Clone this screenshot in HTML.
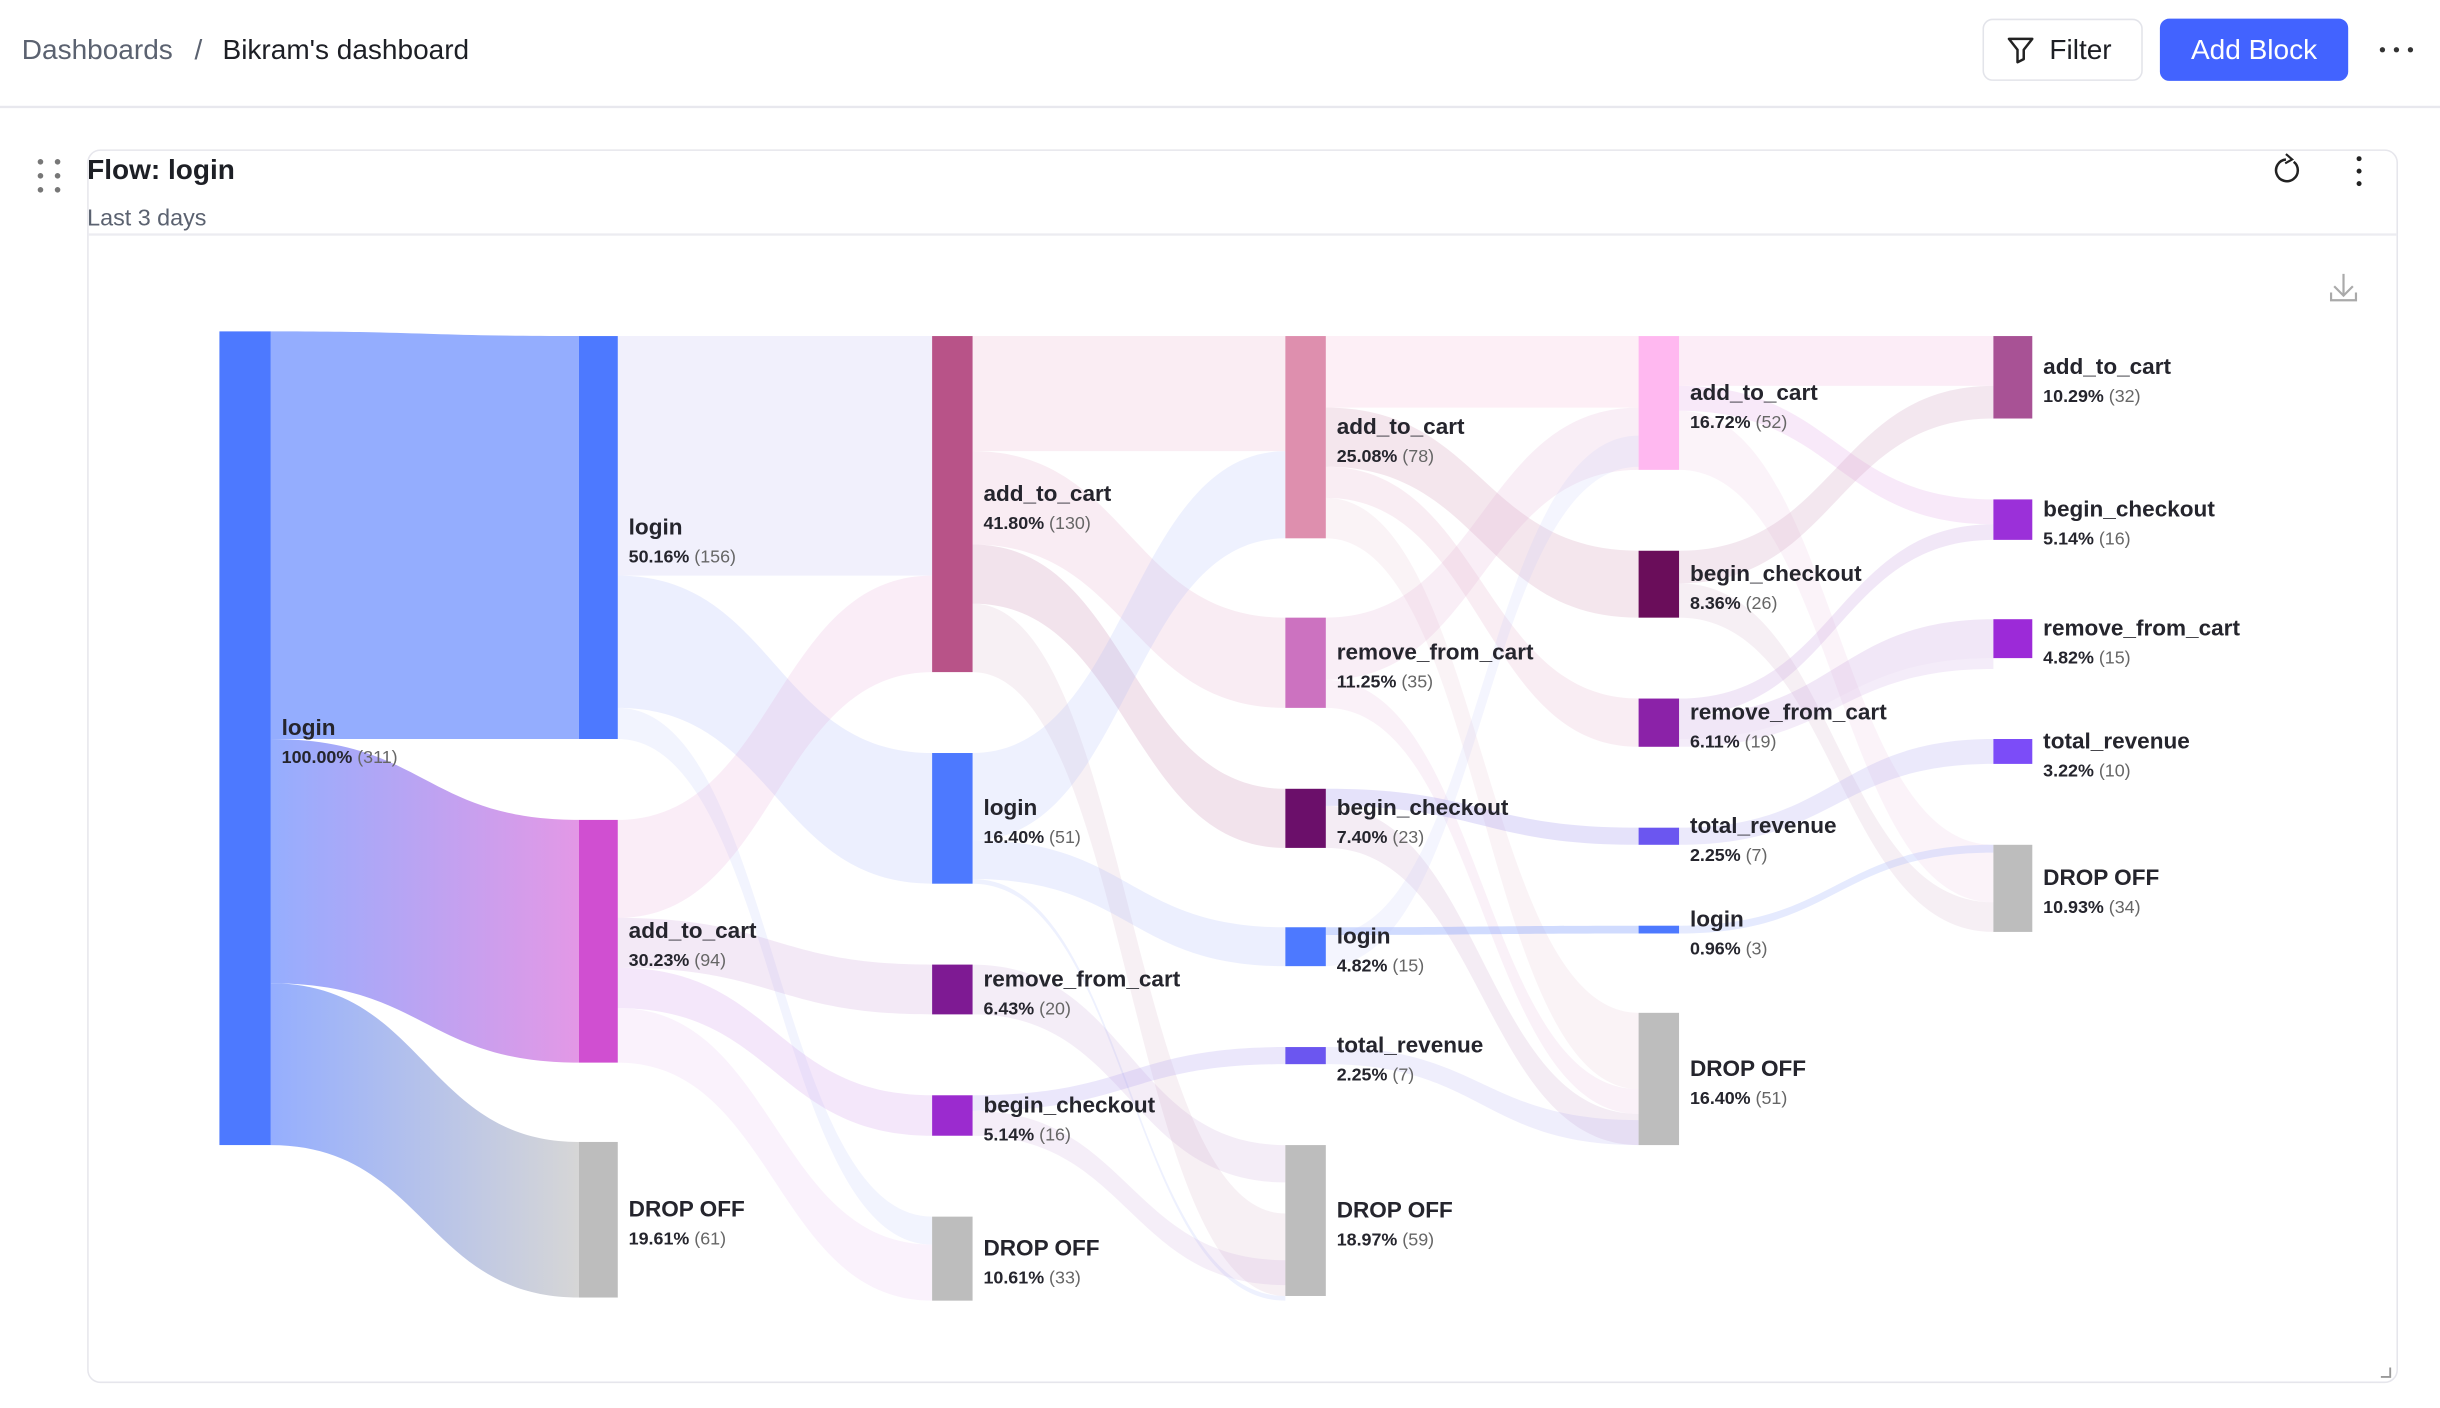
<!DOCTYPE html>
<html><head><meta charset="utf-8">
<style>
html,body{margin:0;padding:0;background:#fff;}
svg{display:block;font-family:"Liberation Sans",sans-serif;}
.nm{font-size:14.5px;font-weight:bold;fill:#25252d;}
.pc{font-size:11.5px;font-weight:bold;fill:#25252d;}
.pc tspan{font-weight:normal;fill:#666;}
</style></head><body>
<svg id="s" width="2440" height="1408" viewBox="0 0 1568 905" preserveAspectRatio="none" xmlns="http://www.w3.org/2000/svg">
<defs>
<linearGradient id="g1" x1="0" x2="1"><stop offset="0" stop-color="#95aefe"/><stop offset="1" stop-color="#e398e6"/></linearGradient>
<linearGradient id="g2" x1="0" x2="1"><stop offset="0" stop-color="#95aefe"/><stop offset="1" stop-color="#d6d6d6"/></linearGradient>
</defs>
<!-- header -->
<text x="14" y="38" font-size="18" fill="#5b6270">Dashboards</text>
<text x="125" y="38" font-size="18" fill="#5b6270">/</text>
<text x="143" y="38" font-size="18" fill="#1d1f25">Bikram's dashboard</text>
<rect x="1274.5" y="12.5" width="102" height="39" rx="6" fill="#fff" stroke="#e3e4ea"/>
<path d="M1291 25 h15 l-5.5 7 v6 l-4 2 v-8 z" fill="none" stroke="#222" stroke-width="1.6" stroke-linejoin="round"/>
<text x="1317" y="38" font-size="18" fill="#1d1f25">Filter</text>
<rect x="1388" y="12" width="121" height="40" rx="6" fill="#4263ff"/>
<text x="1448.5" y="38" font-size="18" fill="#fff" text-anchor="middle">Add Block</text>
<circle cx="1531" cy="32" r="1.7" fill="#333"/><circle cx="1540" cy="32" r="1.7" fill="#333"/><circle cx="1549" cy="32" r="1.7" fill="#333"/>
<rect x="0" y="68" width="1568" height="1.5" fill="#e8e8ee"/>
<!-- card -->
<rect x="56.5" y="96.5" width="1484" height="792" rx="8" fill="#fff" stroke="#e6e6ec"/>
<rect x="56.5" y="150" width="1484" height="1.5" fill="#ececf1"/>
<g fill="#777"><circle cx="26" cy="104" r="1.8"/><circle cx="37" cy="104" r="1.8"/><circle cx="26" cy="113" r="1.8"/><circle cx="37" cy="113" r="1.8"/><circle cx="26" cy="122" r="1.8"/><circle cx="37" cy="122" r="1.8"/></g>
<text x="56" y="115" font-size="18" font-weight="bold" fill="#1d1f25">Flow: login</text>
<text x="56" y="145" font-size="15" fill="#5b6270">Last 3 days</text>
<path d="M1474 104 A7 7 0 1 1 1469 102.5" fill="none" stroke="#222" stroke-width="1.6"/>
<path d="M1469 99 l4 3.5 l-4.5 2.5" fill="none" stroke="#222" stroke-width="1.4"/>
<circle cx="1516" cy="102" r="1.6" fill="#222"/><circle cx="1516" cy="110" r="1.6" fill="#222"/><circle cx="1516" cy="118" r="1.6" fill="#222"/>
<path d="M1506 176 v14 M1500 184 l6 6 l6 -6 M1498 188 v5 h16 v-5" fill="none" stroke="#aaa" stroke-width="1.4"/>
<path d="M1530 885 h6 v-6" fill="none" stroke="#999" stroke-width="1.2"/>
<g id="links"></g>
<g id="nodes"></g>
<g id="labels"></g>
</svg>
<script>
var NS="http://www.w3.org/2000/svg";
var L=document.getElementById('links'),N=document.getElementById('nodes'),T=document.getElementById('labels');
function band(x0,a0,a1,x1,b0,b1,fill,op){
 var m=(x0+x1)/2,p=document.createElementNS(NS,'path');
 p.setAttribute('d','M'+x0+' '+a0+' C'+m+' '+a0+' '+m+' '+b0+' '+x1+' '+b0+' L'+x1+' '+b1+' C'+m+' '+b1+' '+m+' '+a1+' '+x0+' '+a1+' Z');
 p.setAttribute('fill',fill);p.setAttribute('fill-opacity',op);L.appendChild(p);}
// col0 -> col1
band(174,213,475,372,216,475,'#94adfe',1);
band(174,475,632,372,527,683,'url(#g1)',1);
band(174,632,736,372,734,834,'url(#g2)',1);
var X=[174,397,625,852,1079,1306],XL=[141,372,599,826,1053,1281];
var c=function(i){return [X[i],XL[i+1]];};
var lk=[
[1,216,370,216,370,'#b8b5ee',.2],[1,370,455,484,568,'#a9b8fb',.22],[1,455,475,782,800,'#a9b8fb',.15],
[1,527,590,370,432,'#e7a6d8',.2],[1,590,622,620,652,'#c79ad8',.22],[1,622,648,704,730,'#d2a0ec',.25],[1,648,683,800,836,'#e5c0ee',.2],
[2,216,290,216,290,'#e8a6c2',.2],[2,290,350,397,455,'#e0a0c4',.2],[2,350,388,507,545,'#c47fa8',.22],[2,388,432,780,833,'#d9b3c6',.2],
[2,484,540,290,346,'#a9b8fb',.2],[2,540,565,596,621,'#a9b8fb',.22],[2,565,568,833,836,'#a9b8fb',.2],
[2,620,652,736,760,'#b888c8',.15],[2,704,714,673,684,'#b0a0f0',.25],[2,714,730,810,826,'#c8a0d8',.18],
[3,216,262,216,262,'#f6bfdc',.25],[3,262,300,354,397,'#d29ab8',.25],[3,300,320,449,480,'#e5afc9',.22],[3,320,346,651,700,'#e5c5d2',.2],
[3,397,437,262,302,'#e4b1d6',.22],[3,437,455,700,716,'#e4b1d6',.18],
[3,507,518,532,543,'#a8a0f0',.3],[3,518,545,716,736,'#c8a0c8',.2],
[3,596,601,595,600,'#8aa5fc',.4],[3,601,621,280,300,'#c0c8f8',.18],[3,673,684,720,736,'#b0a8f0',.2],
[4,216,248,216,248,'#f6c5e6',.3],[4,248,264,321,337,'#e5a8e8',.25],[4,264,302,543,580,'#efd0e8',.25],
[4,354,375,248,269,'#d0a0c0',.25],[4,375,397,580,599,'#d0b0c8',.2],
[4,449,460,337,347,'#c8a0e0',.25],[4,460,475,398,423,'#c8a0e0',.25],[4,475,480,423,430,'#c8a0e0',.2],
[4,532,543,475,491,'#b0a8f0',.25],[4,595,600,543,548,'#a9b8fb',.3]
];
lk.forEach(function(l){var cc=c(l[0]-1+1);band(X[l[0]],l[1],l[2],XL[l[0]+1],l[3],l[4],l[5],l[6]);});
var nodes=[
[0,213,736,'#4d79ff','login','100.00%','311'],
[1,216,475,'#4d79ff','login','50.16%','156'],[1,527,683,'#d04fd1','add_to_cart','30.23%','94'],[1,734,834,'#bdbdbd','DROP OFF','19.61%','61'],
[2,216,432,'#b85388','add_to_cart','41.80%','130'],[2,484,568,'#4d79ff','login','16.40%','51'],[2,620,652,'#7e1a93','remove_from_cart','6.43%','20'],[2,704,730,'#9b2bcf','begin_checkout','5.14%','16'],[2,782,836,'#bdbdbd','DROP OFF','10.61%','33'],
[3,216,346,'#de8fae','add_to_cart','25.08%','78'],[3,397,455,'#cc72c0','remove_from_cart','11.25%','35'],[3,507,545,'#6b0f6a','begin_checkout','7.40%','23'],[3,596,621,'#4d79ff','login','4.82%','15'],[3,673,684,'#6b56f0','total_revenue','2.25%','7'],[3,736,833,'#bdbdbd','DROP OFF','18.97%','59'],
[4,216,302,'#ffb8f0','add_to_cart','16.72%','52'],[4,354,397,'#6a0d5a','begin_checkout','8.36%','26'],[4,449,480,'#8b22a8','remove_from_cart','6.11%','19'],[4,532,543,'#6b56f0','total_revenue','2.25%','7'],[4,595,600,'#4d79ff','login','0.96%','3'],[4,651,736,'#bdbdbd','DROP OFF','16.40%','51'],
[5,216,269,'#a85295','add_to_cart','10.29%','32'],[5,321,347,'#9b30d9','begin_checkout','5.14%','16'],[5,398,423,'#9c2ad8','remove_from_cart','4.82%','15'],[5,475,491,'#7c4cf8','total_revenue','3.22%','10'],[5,543,599,'#bdbdbd','DROP OFF','10.93%','34']
];
nodes.forEach(function(n){
 var r=document.createElementNS(NS,'rect');
 r.setAttribute('x',XL[n[0]]);r.setAttribute('y',n[1]);r.setAttribute('width',X[n[0]]-XL[n[0]]);r.setAttribute('height',n[2]-n[1]);r.setAttribute('fill',n[3]);N.appendChild(r);
 var m=(n[1]+n[2])/2,x=X[n[0]]+7;
 var t=document.createElementNS(NS,'text');t.setAttribute('x',x);t.setAttribute('y',m-2);t.setAttribute('class','nm');t.textContent=n[4];T.appendChild(t);
 var p=document.createElementNS(NS,'text');p.setAttribute('x',x);p.setAttribute('y',m+16);p.setAttribute('class','pc');
 p.textContent=n[5]+' ';var s=document.createElementNS(NS,'tspan');s.textContent=' ('+n[6]+')';p.appendChild(s);T.appendChild(p);
});
</script>
</body></html>
